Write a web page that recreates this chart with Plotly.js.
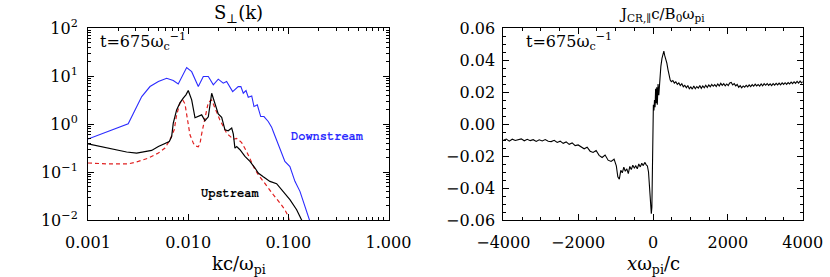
<!DOCTYPE html>
<html>
<head>
<meta charset="utf-8">
<script src="https://cdn.plot.ly/plotly-3.0.1.min.js"></script>
<style>html,body{margin:0;padding:0;background:#fff;}#chart{width:830px;height:277px;}</style>
</head>
<body>
<div id="chart"></div>
<script>
// ---------- Left panel: S_perp(k) ----------
const kDown = [0.00100,0.00252,0.00344,0.00416,0.00504,0.00610,0.00710,0.00796,0.00966,0.01084,0.01262,0.01416,0.01589,0.01783,0.01997,0.0224,0.0242,0.0278,0.0316,0.0336,0.0355,0.0378,0.0398,0.0431,0.0454,0.0490,0.0530,0.0571,0.0630,0.0681,0.0707,0.0811,0.0924,0.1037,0.1164,0.1306,0.1466,0.162,0.172];
const sDown = [0.485,1.01,3.73,6.03,7.66,8.99,8.02,6.85,14.96,12.3,6.03,9.73,9.73,6.53,8.58,7.08,7.66,4.74,6.03,6.0,4.38,4.97,3.62,3.85,2.31,2.51,1.43,1.43,1.13,0.86,0.70,0.340,0.166,0.130,0.0638,0.0395,0.0193,0.0105,0.007];

const kUp = [0.00100,0.00166,0.00243,0.00306,0.00371,0.00432,0.00504,0.00587,0.00648,0.00684,0.00710,0.00767,0.00828,0.00893,0.00950,0.01002,0.01084,0.0117,0.01262,0.01364,0.01472,0.01589,0.01717,0.0185,0.01997,0.0216,0.0224,0.0233,0.0251,0.0272,0.0282,0.0293,0.0305,0.0329,0.0369,0.0414,0.0465,0.0501,0.0562,0.0655,0.0764,0.0890,0.1037,0.121,0.136,0.143];
const sUp = [0.387,0.315,0.261,0.248,0.261,0.281,0.340,0.387,0.432,0.549,1.04,1.97,2.76,3.45,4.05,4.97,3.18,1.35,1.43,1.55,1.17,1.41,4.38,2.72,1.63,1.38,1.04,0.757,0.722,0.822,0.625,0.315,0.340,0.291,0.211,0.166,0.121,0.0953,0.0798,0.0638,0.0571,0.0395,0.0266,0.0164,0.0105,0.008];

const kRed = [0.00100,0.00166,0.00252,0.00318,0.00400,0.00504,0.00587,0.00658,0.00726,0.00767,0.00828,0.00881,0.00929,0.00980,0.01042,0.01125,0.0117,0.01262,0.01312,0.01364,0.01440,0.01508,0.01589,0.01717,0.0185,0.0207,0.0228,0.0244,0.0261,0.0282,0.0305,0.0342,0.0384,0.0431,0.0465,0.0501,0.0562,0.0630,0.0707,0.0824,0.0924,0.0998,0.104];
const sRed = [0.154,0.147,0.147,0.166,0.195,0.248,0.315,0.470,0.757,1.55,2.72,3.18,2.63,1.35,0.596,0.401,0.352,0.336,0.387,0.625,1.06,1.88,2.83,3.18,2.14,1.22,0.822,0.625,0.56,0.48,0.50,0.41,0.264,0.156,0.112,0.0879,0.0628,0.0472,0.0338,0.0227,0.0164,0.0119,0.0084];

const kTickVals = [0.001,0.01,0.1,1];
const kTickText = ['0.001','0.010','0.100','1.000'];
const sTickVals = [0.01,0.1,1,10,100];
const sTickText = ['10<sup>−2</sup>','10<sup>−1</sup>','10<sup>0</sup>','10<sup>1</sup>','10<sup>2</sup>'];

// ---------- Right panel: J_CR,par ----------
const xPos = [-4000,-3920,-3840,-3760,-3680,-3600,-3520,-3440,-3360,-3280,-3200,-3120,-3040,-2960,-2880,-2800,-2720,-2640,-2560,-2480,-2400,-2320,-2240,-2160,-2080,-2000,-1920,-1840,-1760,-1680,-1600,-1520,-1440,-1360,-1280,-1200,-1120,-1040,-980,-940,-900,-860,-820,-780,-740,-700,-660,-620,-580,-540,-500,-460,-420,-380,-340,-300,-260,-220,-180,-150,-120,-100,-80,-60,-45,-30,-20,-12,-5,10,25,40,55,70,85,100,115,135,155,180,210,240,270,290,310,340,370,400,430,460,490,530,570,610,650,690,730,770,810,850,890,930,970,1010,1050,1090,1130,1170,1210,1250,1290,1330,1370,1410,1450,1490,1530,1570,1610,1650,1690,1730,1770,1810,1850,1890,1930,1970,2010,2050,2090,2130,2170,2210,2250,2290,2330,2370,2410,2450,2490,2530,2570,2610,2650,2690,2730,2770,2810,2850,2890,2930,2970,3010,3050,3090,3130,3170,3210,3250,3290,3330,3370,3410,3450,3490,3530,3570,3610,3650,3690,3730,3770,3810,3850,3890,3930,3970,4000];
const jCR = [-0.0102,-0.0094,-0.0107,-0.0095,-0.0103,-0.0097,-0.0093,-0.0105,-0.0096,-0.0104,-0.0098,-0.0109,-0.0099,-0.0106,-0.0097,-0.0108,-0.0110,-0.0102,-0.0115,-0.0107,-0.0121,-0.0112,-0.0127,-0.0118,-0.0135,-0.0131,-0.0144,-0.0155,-0.0145,-0.0170,-0.0178,-0.0166,-0.0196,-0.0209,-0.0194,-0.0226,-0.0234,-0.0220,-0.0262,-0.0330,-0.0345,-0.0290,-0.0305,-0.0270,-0.0295,-0.0280,-0.0310,-0.0265,-0.0285,-0.0258,-0.0275,-0.0262,-0.0280,-0.0250,-0.0268,-0.0245,-0.0260,-0.0240,-0.0255,-0.0262,-0.0300,-0.0390,-0.0490,-0.0545,-0.0560,-0.0520,-0.0300,0.0000,0.0090,0.0120,0.0085,0.0150,0.0105,0.0220,0.0130,0.0230,0.0120,0.0250,0.0180,0.0300,0.0360,0.0410,0.0440,0.0455,0.0430,0.0410,0.0380,0.0340,0.0300,0.0275,0.0265,0.0272,0.0256,0.0264,0.0248,0.0257,0.0240,0.0252,0.0233,0.0242,0.0226,0.0240,0.0220,0.0232,0.0218,0.0237,0.0220,0.0234,0.0224,0.0240,0.0223,0.0238,0.0226,0.0242,0.0228,0.0244,0.0233,0.0247,0.0236,0.0246,0.0234,0.0250,0.0238,0.0254,0.0241,0.0252,0.0238,0.0250,0.0240,0.0257,0.0260,0.0244,0.0252,0.0238,0.0247,0.0230,0.0240,0.0226,0.0238,0.0230,0.0242,0.0232,0.0244,0.0234,0.0246,0.0236,0.0249,0.0238,0.0247,0.0237,0.0250,0.0239,0.0252,0.0242,0.0253,0.0241,0.0251,0.0240,0.0252,0.0243,0.0254,0.0244,0.0256,0.0245,0.0257,0.0247,0.0258,0.0248,0.0259,0.0250,0.0262,0.0252,0.0264,0.0254,0.0267,0.0256,0.0268,0.0257,0.0264];

const xTickVals = [-4000,-2000,0,2000,4000];
const xTickText = ['−4000','−2000','0','2000','4000'];
const jTickVals = [-0.06,-0.04,-0.02,0,0.02,0.04,0.06];
const jTickText = ['−0.06','−0.04','−0.02','0.00','0.02','0.04','0.06'];

// ---------- layout helpers ----------
const W = 830, H = 277;
const fx = p => p / W, fy = p => 1 - p / H;
const SERIF = '"DejaVu Serif", "Liberation Serif", serif';
const MONO = '"FreeMono", "Courier New", Courier, monospace';

const minorLog = [];
for (let e = -3; e <= 2; e++) for (let m = 2; m <= 9; m++) minorLog.push(m * Math.pow(10, e));

const axBase = {
  showline: true, linecolor: '#000', linewidth: 1, mirror: 'allticks',
  ticks: 'inside', ticklen: 6, tickwidth: 1, tickcolor: '#000',
  showgrid: false, zeroline: false, tickmode: 'array',
  tickfont: {family: SERIF, size: 16, color: '#000'}
};

const traces = [
  {x: kDown, y: sDown, xaxis: 'x', yaxis: 'y', mode: 'lines', line: {color: '#2b2bff', width: 1.1}, hoverinfo: 'skip'},
  {x: kRed, y: sRed, xaxis: 'x', yaxis: 'y', mode: 'lines', line: {color: '#e02020', width: 1.2, dash: '4px,3px'}, hoverinfo: 'skip'},
  {x: kUp, y: sUp, xaxis: 'x', yaxis: 'y', mode: 'lines', line: {color: '#000', width: 1.2}, hoverinfo: 'skip'},
  {x: xPos, y: jCR, xaxis: 'x2', yaxis: 'y2', mode: 'lines', line: {color: '#000', width: 1.1}, hoverinfo: 'skip'}
];

const layout = {
  width: W, height: H, margin: {l: 0, r: 0, t: 0, b: 0},
  paper_bgcolor: '#fff', plot_bgcolor: '#fff', showlegend: false,
  font: {family: SERIF, color: '#000'},
  xaxis: Object.assign({}, axBase, {
    type: 'log', range: [-3, 0], domain: [fx(88), fx(388.5)], anchor: 'y',
    tickvals: kTickVals, ticktext: kTickText, ticklabelstandoff: 8,
    minor: {tickmode: 'array', tickvals: minorLog, ticks: 'inside', ticklen: 3, tickcolor: '#000', tickwidth: 1}
  }),
  yaxis: Object.assign({}, axBase, {
    type: 'log', range: [-2, 2], domain: [fy(220), fy(28)], anchor: 'x',
    tickvals: sTickVals, ticktext: sTickText, ticklabelstandoff: 6,
    minor: {tickmode: 'array', tickvals: minorLog, ticks: 'inside', ticklen: 3, tickcolor: '#000', tickwidth: 1}
  }),
  xaxis2: Object.assign({}, axBase, {
    range: [-4000, 4000], domain: [fx(503.3), fx(802.7)], anchor: 'y2',
    tickvals: xTickVals, ticktext: xTickText, ticklabelstandoff: 8,
    minor: {dtick: 500, tick0: 0, ticks: 'inside', ticklen: 3, tickcolor: '#000', tickwidth: 1}
  }),
  yaxis2: Object.assign({}, axBase, {
    range: [-0.06, 0.06], domain: [fy(220), fy(28)], anchor: 'x2',
    tickvals: jTickVals, ticktext: jTickText, ticklabelstandoff: 4,
    minor: {dtick: 0.005, tick0: 0, ticks: 'inside', ticklen: 3, tickcolor: '#000', tickwidth: 1}
  }),
  annotations: [
    {text: 'S<sub>⊥</sub>(k)', x: fx(238), y: fy(14), xref: 'paper', yref: 'paper', showarrow: false, xanchor: 'center', yanchor: 'middle', font: {family: SERIF, size: 18, color: '#000'}},
    {text: 'J<sub>CR,∥</sub>c/B<sub>0</sub>ω<sub>pi</sub>', x: fx(662), y: fy(15), xref: 'paper', yref: 'paper', showarrow: false, xanchor: 'center', yanchor: 'middle', font: {family: SERIF, size: 15, color: '#000'}},
    {text: 'kc/ω<sub>pi</sub>', x: fx(239), y: fy(265), xref: 'paper', yref: 'paper', showarrow: false, xanchor: 'center', yanchor: 'middle', font: {family: SERIF, size: 18, color: '#000'}},
    {text: '<i>x</i>ω<sub>pi</sub>/c', x: fx(653), y: fy(265), xref: 'paper', yref: 'paper', showarrow: false, xanchor: 'center', yanchor: 'middle', font: {family: SERIF, size: 18, color: '#000'}},
    {text: 't=675ω<sub>c</sub><sup>−1</sup>', x: fx(98), y: fy(42), xref: 'paper', yref: 'paper', showarrow: false, xanchor: 'left', yanchor: 'middle', font: {family: SERIF, size: 16, color: '#000'}},
    {text: 't=675ω<sub>c</sub><sup>−1</sup>', x: fx(524), y: fy(42), xref: 'paper', yref: 'paper', showarrow: false, xanchor: 'left', yanchor: 'middle', font: {family: SERIF, size: 16, color: '#000'}},
    {text: '<b>Downstream</b>', x: fx(327), y: fy(136), xref: 'paper', yref: 'paper', showarrow: false, xanchor: 'center', yanchor: 'middle', font: {family: MONO, size: 12, color: '#2b2bff'}},
    {text: '<b>Upstream</b>', x: fx(229.5), y: fy(193), xref: 'paper', yref: 'paper', showarrow: false, xanchor: 'center', yanchor: 'middle', font: {family: MONO, size: 12, color: '#000'}}
  ]
};

Plotly.newPlot('chart', traces, layout, {staticPlot: true, displayModeBar: false});
</script>
</body>
</html>
